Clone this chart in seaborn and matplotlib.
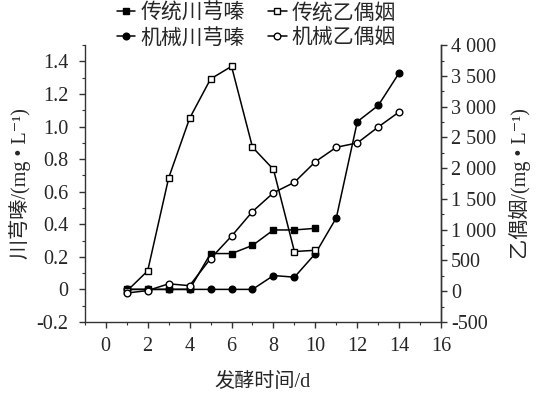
import numpy as np
import pandas as pd
import matplotlib
matplotlib.use("Agg")
import matplotlib.pyplot as plt
import seaborn as sns
from matplotlib.ticker import MultipleLocator, FixedLocator

# ---- data ----
days_trad = [1, 2, 3, 4, 5, 6, 7, 8, 9, 10]
days_mech = [1, 2, 3, 4, 5, 6, 7, 8, 9, 10, 11, 12, 13, 14]

trad_ttmp = [0, 0, 0, 0, 0.22, 0.22, 0.27, 0.365, 0.365, 0.375]
mech_ttmp = [0, 0, 0, 0, 0, 0, 0, 0.085, 0.075, 0.22, 0.44, 1.03, 1.13, 1.33]

trad_acetoin = [0, 330, 1840, 2810, 3450, 3655, 2340, 1980, 645, 665]
mech_acetoin = [-30, 10, 120, 90, 530, 895, 1295, 1600, 1770, 2105, 2340, 2410, 2670, 2915]

left_ticks = [-0.2, 0, 0.2, 0.4, 0.6, 0.8, 1.0, 1.2, 1.4]
left_labels = ["-0.2", "0", "0.2", "0.4", "0.6", "0.8", "1.0", "1.2", "1.4"]
right_ticks = [-500, 0, 500, 1000, 1500, 2000, 2500, 3000, 3500, 4000]
right_labels = ["-500", "0", "500", "1 000", "1 500", "2 000", "2 500", "3 000", "3 500", "4 000"]
x_ticks = [0, 2, 4, 6, 8, 10, 12, 14, 16]

sns.set_style("ticks")
plt.rcParams["font.family"] = ["Liberation Serif", "DejaVu Serif", "Noto Sans CJK SC"]
plt.rcParams["font.size"] = 14.5

fig = plt.figure(figsize=(5.4, 3.96), dpi=100)
ax = fig.add_axes([0.157, 0.187, 0.66, 0.699])
ax2 = ax.twinx()

df_t = pd.DataFrame({"day": days_trad, "ttmp": trad_ttmp, "acetoin": trad_acetoin})
df_m = pd.DataFrame({"day": days_mech, "ttmp": mech_ttmp, "acetoin": mech_acetoin})

common = dict(color="black", linewidth=1.1, markersize=4.8, markeredgecolor="black",
              markeredgewidth=1.0)

sns.lineplot(data=df_t, x="day", y="ttmp", ax=ax, marker="s", markerfacecolor="black",
             label="传统川芎嗪", legend=False, **common)
sns.lineplot(data=df_m, x="day", y="ttmp", ax=ax, marker="o", markerfacecolor="black",
             label="机械川芎嗪", legend=False, **common)
sns.lineplot(data=df_t, x="day", y="acetoin", ax=ax2, marker="s", markerfacecolor="white",
             label="传统乙偶姻", legend=False, **common)
sns.lineplot(data=df_m, x="day", y="acetoin", ax=ax2, marker="o", markerfacecolor="white",
             label="机械乙偶姻", legend=False, **common)

ax.set_xlim(-1, 16)
ax.set_ylim(-0.2, 1.5)
ax2.set_ylim(-500, 4000)

ax.xaxis.set_major_locator(FixedLocator(x_ticks))
ax.xaxis.set_minor_locator(MultipleLocator(1))
ax.set_xticklabels([str(t) for t in x_ticks])
ax.yaxis.set_major_locator(FixedLocator(left_ticks))
ax.set_yticklabels(left_labels)
ax.yaxis.set_minor_locator(MultipleLocator(0.1))
ax2.yaxis.set_major_locator(FixedLocator(right_ticks))
ax2.set_yticklabels(right_labels)
ax2.yaxis.set_minor_locator(MultipleLocator(250))

for a in (ax, ax2):
    a.spines["top"].set_visible(False)
    for s in a.spines.values():
        s.set_color("#333333")
        s.set_linewidth(1.0)
    a.tick_params(which="major", direction="out", length=4, width=1, color="#333333")
    a.tick_params(which="minor", direction="out", length=2.5, width=0.8, color="#333333")
ax2.spines["left"].set_visible(False)
ax2.spines["bottom"].set_visible(False)
ax.tick_params(axis="y", which="major", pad=8)
ax.tick_params(axis="x", which="major", pad=7)
ax2.tick_params(axis="y", which="major", pad=3)

ax.set_xlabel("发酵时间/d", labelpad=12)
ax.set_ylabel("川芎嗪/(mg • L⁻¹)", labelpad=4)
ax2.set_ylabel("乙偶姻/(mg • L⁻¹)", labelpad=9)

h1, l1 = ax.get_legend_handles_labels()
h2, l2 = ax2.get_legend_handles_labels()
handles = [h1[0], h1[1], h2[0], h2[1]]
labels = [l1[0], l1[1], l2[0], l2[1]]
fig.legend(handles, labels, ncol=2, frameon=False, loc="upper center",
           bbox_to_anchor=(0.475, 1.018), handlelength=0.9, handletextpad=0.25,
           columnspacing=1.1, labelspacing=0.25, borderaxespad=0.1, fontsize=15)

fig.savefig("out.png", dpi=100)
